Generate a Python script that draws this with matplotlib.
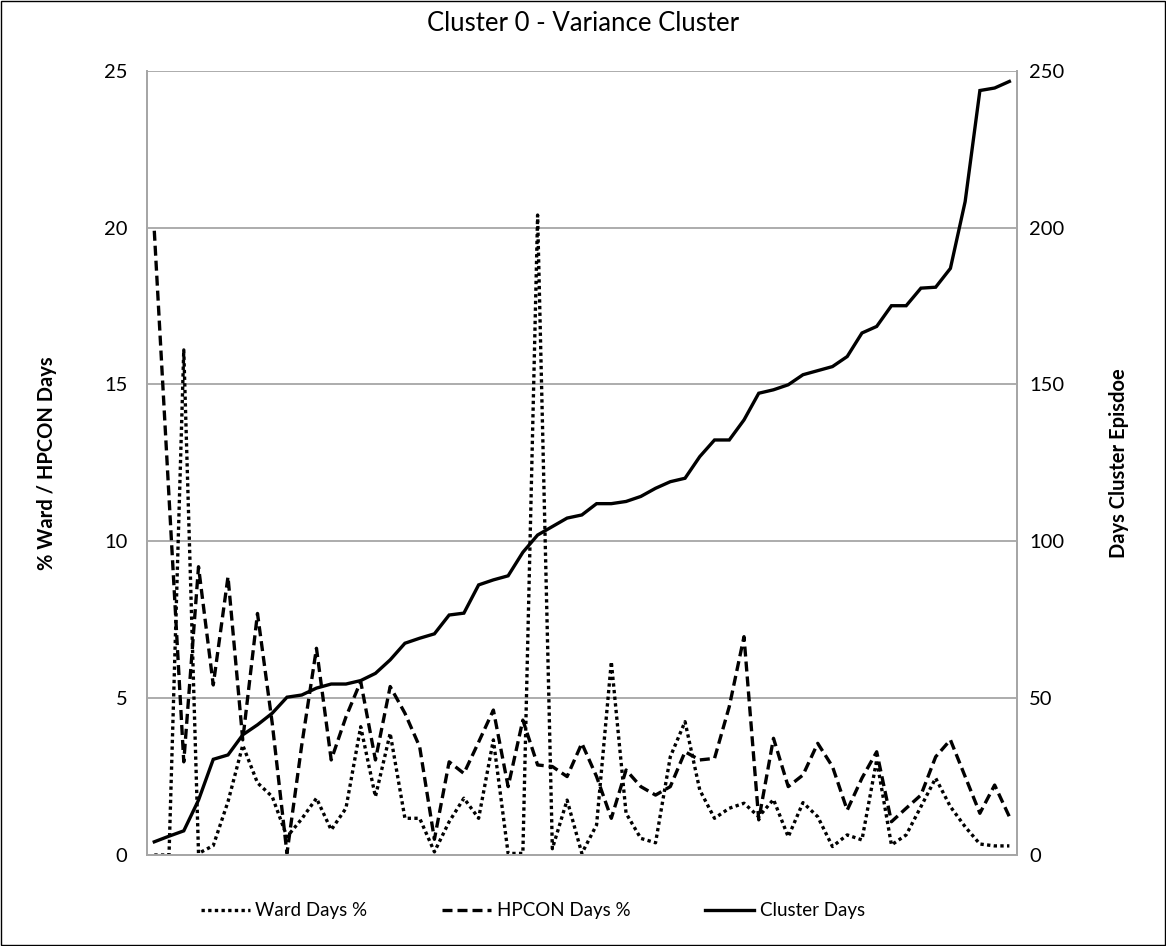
import matplotlib
matplotlib.use("Agg")
import matplotlib.pyplot as plt
import numpy as np
from matplotlib.lines import Line2D
from matplotlib.patches import Rectangle

plt.rcParams["font.family"] = ["Lato", "DejaVu Sans"]

TITLE = "Cluster 0 - Variance Cluster"
LEFT_LABEL = "% Ward / HPCON Days"
RIGHT_LABEL = "Days Cluster Episdoe"

# values, one per episode (59 episodes)
ward_days_pct = [
    0.0, 0.0, 16.1, 0.05, 0.3, 1.7, 3.5, 2.3, 1.86, 0.58,
    1.15, 1.81, 0.8, 1.49, 4.09, 1.86, 3.88, 1.17, 1.17, 0.1,
    1.06, 1.81, 1.17, 3.67, 0.05, 0.05, 20.4, 0.2, 1.75, 0.05,
    0.96, 6.16, 1.33, 0.53, 0.39, 3.13, 4.25, 2.07, 1.17, 1.49,
    1.65, 1.22, 1.77, 0.58, 1.67, 1.22, 0.27, 0.64, 0.48, 3.03,
    0.32, 0.64, 1.54, 2.45, 1.54, 0.9, 0.35, 0.29, 0.29,
]
hpcon_days_pct = [
    19.9, 11.4, 2.97, 9.19, 5.42, 8.87, 3.67, 7.7, 4.2, 0.05,
    3.5, 6.59, 3.03, 4.4, 5.53, 3.03, 5.37, 4.52, 3.45, 0.5,
    2.97, 2.6, 3.6, 4.62, 2.18, 4.3, 2.87, 2.82, 2.5, 3.56,
    2.5, 1.17, 2.71, 2.18, 1.91, 2.18, 3.29, 3.03, 3.08, 4.73,
    6.96, 1.12, 3.72, 2.18, 2.55, 3.56, 2.82, 1.43, 2.45, 3.29,
    1.06, 1.49, 1.91, 3.13, 3.67, 2.5, 1.33, 2.23, 1.22,
]
cluster_days = [
    4.2, 6.0, 7.7, 17.5, 30.5, 31.9, 38.3, 41.5, 45.2, 50.3,
    51.0, 53.2, 54.5, 54.5, 55.6, 57.9, 62.2, 67.5, 69.1, 70.5,
    76.5, 77.1, 86.1, 87.7, 89.0, 96.5, 102.0, 104.7, 107.4, 108.4,
    112.0, 112.0, 112.7, 114.3, 116.9, 119.0, 120.1, 127.0, 132.3, 132.3,
    138.7, 147.2, 148.3, 149.9, 153.1, 154.4, 155.7, 158.9, 166.4, 168.5,
    175.1, 175.1, 180.7, 181.0, 187.0, 208.3, 243.7, 244.5, 246.6,
]

GRID = "#a6a6a6"
fig = plt.figure(figsize=(11.66, 9.46), dpi=100)
ax = fig.add_axes([0.126, 0.0962, 0.746, 0.829])
ax2 = ax.twinx()

x = np.arange(len(cluster_days))
ward_style = dict(color="black", linewidth=2.4, linestyle=(0, (1, 1)), dash_capstyle="butt")
hpcon_style = dict(color="black", linewidth=2.4, linestyle=(0, (3, 1.5)), dash_capstyle="butt")
clust_style = dict(color="black", linewidth=2.4, solid_joinstyle="miter")

ax.plot(x, ward_days_pct, **ward_style)
ax.plot(x, hpcon_days_pct, **hpcon_style)
ax2.plot(x, cluster_days, **clust_style)

ax.set_xlim(-0.5, len(x) - 0.5)
ax.set_ylim(0, 25)
ax2.set_ylim(0, 250)
ax.set_yticks(np.arange(0, 26, 5))
ax2.set_yticks(np.arange(0, 251, 50))
ax.set_xticks([])
ax.yaxis.grid(True, color=GRID, linewidth=1.3)
ax.set_axisbelow(True)

for a in (ax, ax2):
    a.spines["top"].set_visible(False)
    for s in ("left", "right", "bottom"):
        a.spines[s].set_color(GRID)
        a.spines[s].set_linewidth(1.3)
ax.tick_params(axis="y", length=0, pad=14, labelsize=14.5)
ax2.tick_params(axis="y", length=0, pad=9, labelsize=14.5)

ax.set_ylabel(LEFT_LABEL, fontsize=14.5, fontweight="bold", labelpad=34)
ax2.set_ylabel(RIGHT_LABEL, fontsize=14.5, fontweight="bold", labelpad=32)
fig.text(0.5, 0.975, TITLE, ha="center", va="center", fontsize=18.5)

handles = [
    Line2D([], [], **ward_style),
    Line2D([], [], **hpcon_style),
    Line2D([], [], **clust_style),
]
fig.legend(handles, ["Ward Days %", "HPCON Days %", "Cluster Days"],
           loc="center", bbox_to_anchor=(0.457, 0.037), ncol=3, frameon=False,
           fontsize=13.5, handlelength=2.6, handletextpad=0.3, columnspacing=4.0)

fig.patches.append(Rectangle((0.001, 0.001), 0.998, 0.998, transform=fig.transFigure,
                             fill=False, edgecolor="black", linewidth=1))

fig.savefig("out.png", dpi=100)
